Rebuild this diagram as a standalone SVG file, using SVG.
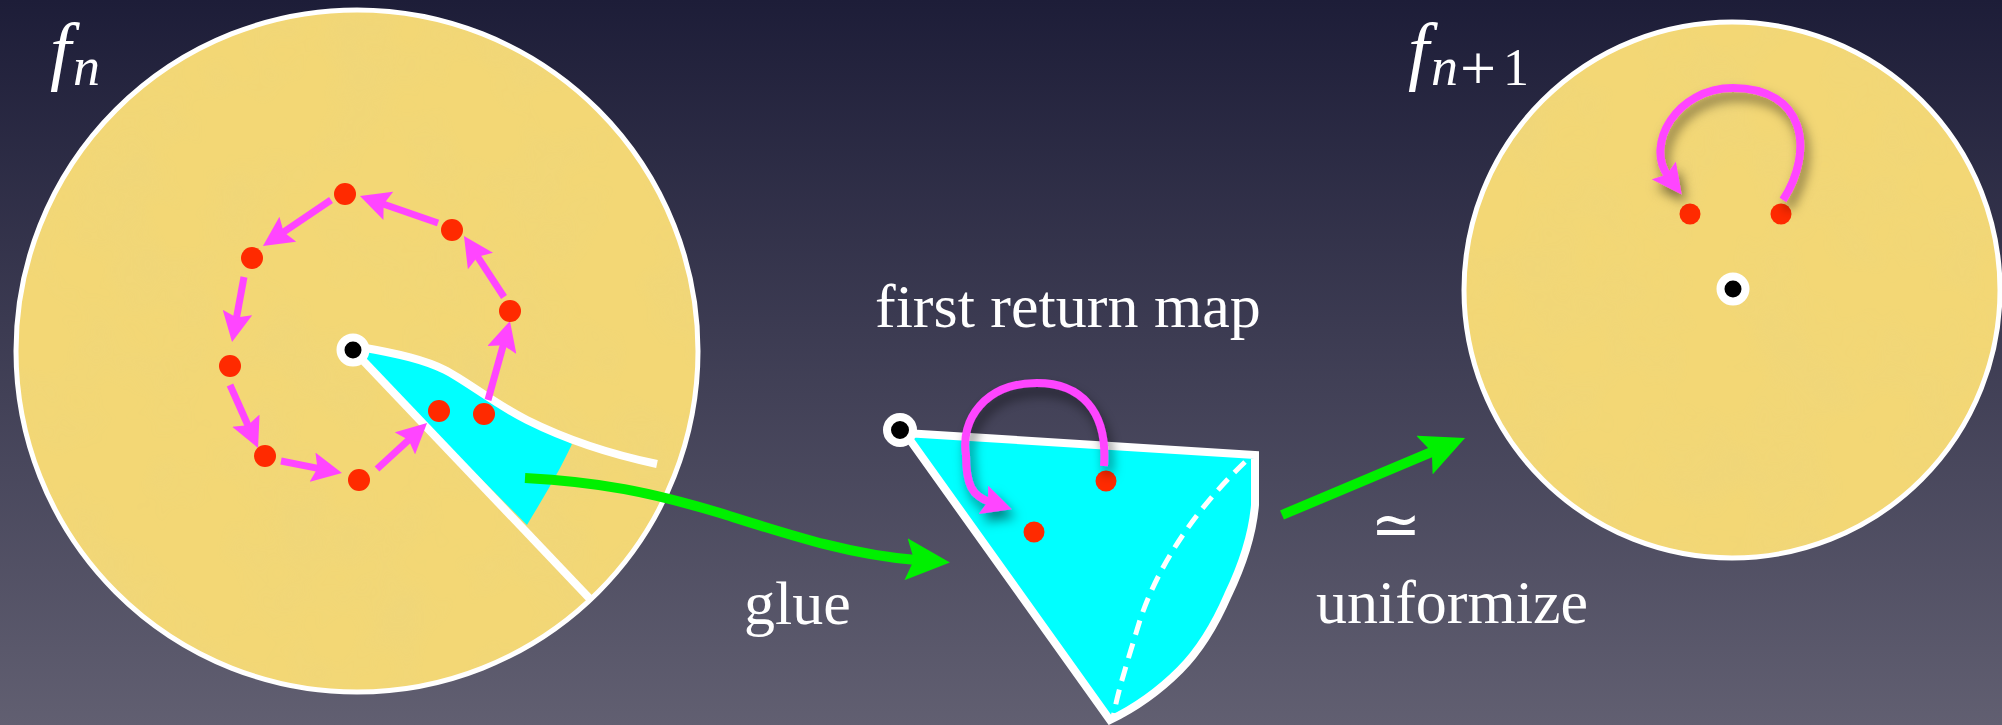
<svg xmlns="http://www.w3.org/2000/svg" width="2002" height="725" viewBox="0 0 2002 725">
<style>
.disk{fill:#f3d775;stroke:#ffffff;stroke-width:5}
.tex{filter:url(#grain)}
.dot{fill:#ff2a00}
.hole{fill:#000;stroke:#fff;stroke-width:8}
.mag{fill:none;stroke:#ff45ff;stroke-width:7;marker-end:url(#mag)}
.arc{fill:none;stroke:#ff45ff;stroke-width:8;marker-end:url(#mag);filter:url(#shadow)}
.grn{fill:none;stroke:#00f000;stroke-width:10;marker-end:url(#grn)}
.wl{fill:none;stroke:#fff;stroke-width:8}
.lbl{fill:#fff;font-family:"Liberation Serif","Times New Roman",serif;font-size:62px}
.math{fill:#fff;font-family:"Liberation Serif","Times New Roman",serif;font-style:italic}
</style>
<defs>
<linearGradient id="bg" x1="0" y1="0" x2="0" y2="1">
<stop offset="0" stop-color="#1d1d38"/>
<stop offset="1" stop-color="#615f71"/>
</linearGradient>
<marker id="mag" markerUnits="userSpaceOnUse" viewBox="0 -15 30 30" markerWidth="30" markerHeight="30" refX="7" refY="0" orient="auto">
<path d="M0,-15 L30,0 L0,15 L5,0 Z" fill="#ff45ff"/>
</marker>
<marker id="grn" markerUnits="userSpaceOnUse" viewBox="0 -21 44 42" markerWidth="44" markerHeight="42" refX="10" refY="0" orient="auto">
<path d="M0,-21 L44,0 L0,21 L8,0 Z" fill="#00f000"/>
</marker>
<filter id="shadow" x="-30%" y="-30%" width="160%" height="170%">
<feDropShadow dx="4" dy="8" stdDeviation="6" flood-color="#000" flood-opacity="0.5"/>
</filter>
<filter id="grain" x="0" y="0" width="100%" height="100%">
<feTurbulence type="fractalNoise" baseFrequency="0.012" numOctaves="3" seed="4" result="n"/>
<feColorMatrix in="n" type="matrix" values="0 0 0 0 0.78  0 0 0 0 0.66  0 0 0 0 0.25  0 0 0 -1.2 0.75" result="c"/>
<feComposite in="c" in2="SourceGraphic" operator="in"/>
</filter>
</defs>
<rect width="2002" height="725" fill="url(#bg)"/>

<g id="disk-fn">
<circle class="disk" cx="357" cy="351" r="341"/>
<circle class="tex" cx="357" cy="351" r="338" fill="#000" opacity="0.35"/>
<path d="M353,350 L360,347 C400,354 425,360 445,370 C465,380 495,404 527,420 C545,429 560,437 572,444 C560,470 545,495 527,525 Z" fill="#00ffff"/>
<path class="wl" d="M360,347 C400,354 425,360 445,370 C465,380 495,404 527,420 C559,436 600,452 657,464"/>
<line class="wl" x1="353" y1="350" x2="591" y2="600"/>
<g id="orbit">
<path class="mag" d="M488,400 L503.8,343.2"/>
<path class="mag" d="M504,297 L476.6,255.2"/>
<path class="mag" d="M438,223 L381.7,203.5"/>
<path class="mag" d="M331,200 L282,233.1"/>
<path class="mag" d="M244,277 L236.2,319.4"/>
<path class="mag" d="M230,385 L248.7,427"/>
<path class="mag" d="M281,461 L319.4,468.6"/>
<path class="mag" d="M377,469 L410.1,438.6"/>
</g>
<circle class="dot" cx="345" cy="194" r="11"/>
<circle class="dot" cx="452" cy="230" r="11"/>
<circle class="dot" cx="510" cy="311" r="11"/>
<circle class="dot" cx="484" cy="414" r="11"/>
<circle class="dot" cx="439" cy="411" r="11"/>
<circle class="dot" cx="359" cy="480" r="11"/>
<circle class="dot" cx="265" cy="456" r="11"/>
<circle class="dot" cx="230" cy="366" r="11"/>
<circle class="dot" cx="252" cy="258" r="11"/>
<circle class="hole" cx="353" cy="350" r="12.5"/>
<text class="math" x="50" y="76" font-size="76">f</text>
<text class="math" x="73" y="85" font-size="54">n</text>
</g>

<g id="wedge">
<path d="M905,433 L1255,455 L1255,505 C1252,540 1240,570 1228,595 C1215,625 1200,650 1180,670 C1160,690 1135,708 1110,720 Z" fill="#00ffff" stroke="#fff" stroke-width="8" stroke-linejoin="miter"/>
<path d="M1245,462 C1200,505 1160,560 1140,620 C1128,660 1118,690 1113,718" fill="none" stroke="#fff" stroke-width="5" stroke-dasharray="15 9"/>
<circle class="dot" cx="1106" cy="481" r="10.5"/>
<circle class="dot" cx="1034" cy="532" r="10.5"/>
<path class="arc" d="M1104,466 C1108,410 1080,383 1037,383 C985,383 960,420 966,455 C966,485 972,496 990,502"/>
<circle class="hole" cx="900" cy="430" r="13"/>
<text class="lbl" x="875" y="327">first return map</text>
</g>

<g id="disk-fn1">
<circle class="disk" cx="1732" cy="290" r="268" stroke-width="4"/>
<circle class="tex" cx="1732" cy="290" r="265" fill="#000" opacity="0.35"/>
<circle class="dot" cx="1690" cy="214" r="10.5"/>
<circle class="dot" cx="1781" cy="214" r="10.5"/>
<path class="arc" d="M1783,200 C1815,150 1805,88 1733,88 C1676,88 1645,145 1668,176"/>
<circle class="hole" cx="1733" cy="289" r="12.5"/>
<text class="math" x="1408" y="76" font-size="76">f</text>
<text class="math" x="1431" y="85" font-size="54">n</text>
<text fill="#fff" font-family="Liberation Serif,serif" x="1460" y="90" font-size="64">+</text>
<text fill="#fff" font-family="Liberation Serif,serif" x="1503" y="85" font-size="52">1</text>
</g>

<g id="connectors">
<path id="glue-arrow" class="grn" d="M525,478 C600,482 650,492 720,513 C790,535 850,555 916,560"/>
<path id="uniformize-arrow" class="grn" d="M1282,515 L1433.7,451.2"/>
<text class="lbl" x="744" y="624">glue</text>
<text fill="#fff" font-family="DejaVu Sans,sans-serif" font-size="60" x="1396" y="545" text-anchor="middle">≃</text>
<text class="lbl" x="1316" y="623">uniformize</text>
</g>
</svg>
